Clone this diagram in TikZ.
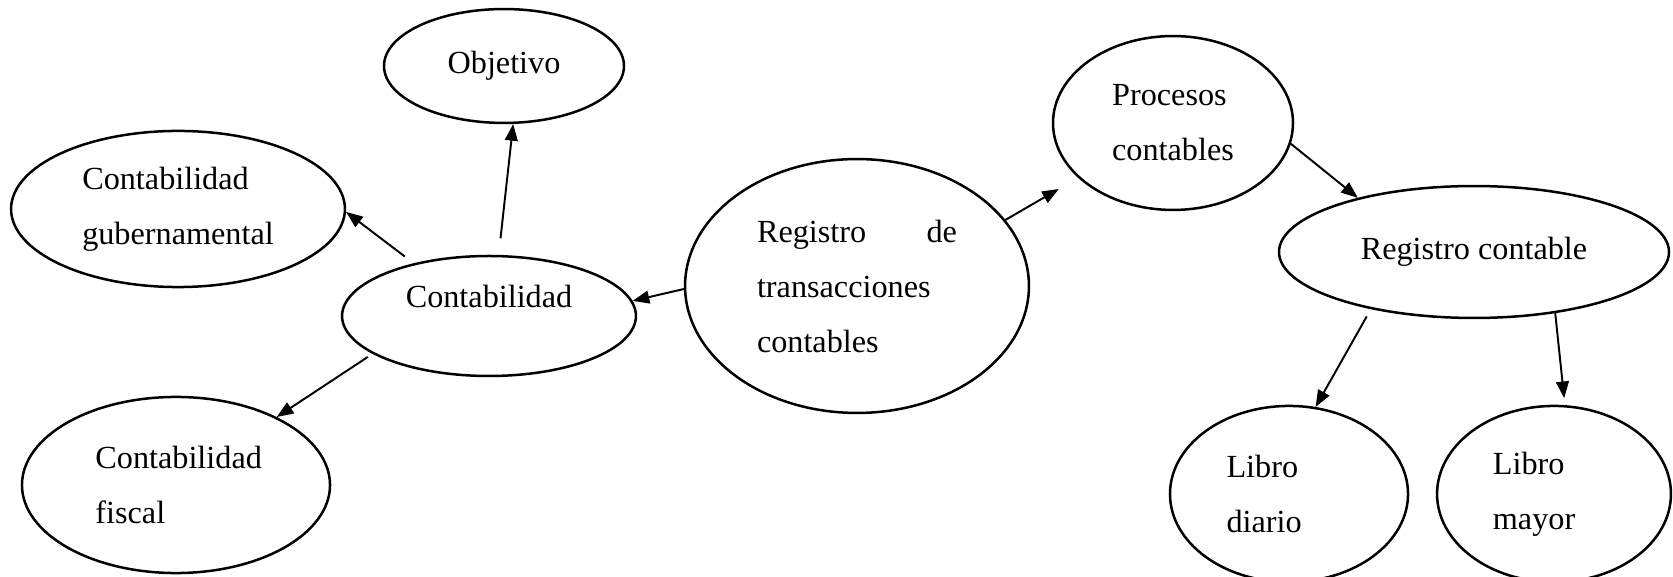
\documentclass[tikz,border=0pt]{standalone}
\usepackage{fontspec}
\setmainfont{Liberation Serif}
\usetikzlibrary{shapes.geometric,arrows.meta}

\begin{document}
\begin{tikzpicture}[x=0.36pt,y=-0.36pt,
    elip/.style={ellipse,draw,line width=0.9pt,inner sep=0pt,align=left,
      font=\fontsize{11.6}{19.8}\selectfont},
    arr/.style={line width=0.7pt,-{Triangle[length=6pt,width=4.6pt]}}]
    \useasboundingbox[fill=white] (0,0) rectangle (1673,577);
    \node[elip,minimum width=86.4pt,minimum height=41pt] (objetivo) at (504,66) {Objetivo};
    \node[elip,minimum width=120.2pt,minimum height=56.2pt] (gob) at (178,209) {Contabilidad\\gubernamental};
    \node[elip,minimum width=105.8pt,minimum height=43.2pt,text depth=14pt] (contab) at (489,316) {Contabilidad};
    \node[elip,minimum width=110.9pt,minimum height=63.4pt] (fiscal) at (176,485) {\makebox[58pt][l]{Contabilidad}\\fiscal};
    \node[elip,minimum width=123.8pt,minimum height=91.4pt] (regtrans) at (857,286) {\makebox[72pt]{Registro\hfill de}\\transacciones\\contables};
    \node[elip,minimum width=86.4pt,minimum height=62.6pt] (procesos) at (1173,123) {Procesos\\contables};
    \node[elip,minimum width=140.4pt,minimum height=47.5pt] (regcont) at (1474,252) {Registro contable};
    \node[elip,minimum width=85.7pt,minimum height=63.4pt] (diario) at (1289,494) {\makebox[45pt][l]{Libro}\\diario};
    \node[elip,minimum width=84.2pt,minimum height=63.4pt] (mayor) at (1554,494) {\makebox[44pt][l]{Libro}\\mayor};
    \foreach \a/\b in {regtrans.181/contab.6,procesos.-10/regcont.155}
      \draw[arr] (\a) -- (\b);
    \draw[arr,shorten <=4pt] (contab.145) -- (gob.-1);
    \draw[arr,shorten <=6pt] (contab.81) -- (objetivo.279);
    \draw[arr,shorten <=2pt] (contab.198) -- (fiscal.34);
    \draw[arr,shorten >=8pt] (regtrans.24) -- (procesos.210);
    \draw[arr,shorten <=3pt] (regcont.209) -- (diario.73);
    \draw[arr,shorten >=2.5pt] (regcont.323) -- (mayor.83);
\end{tikzpicture}
\end{document}
